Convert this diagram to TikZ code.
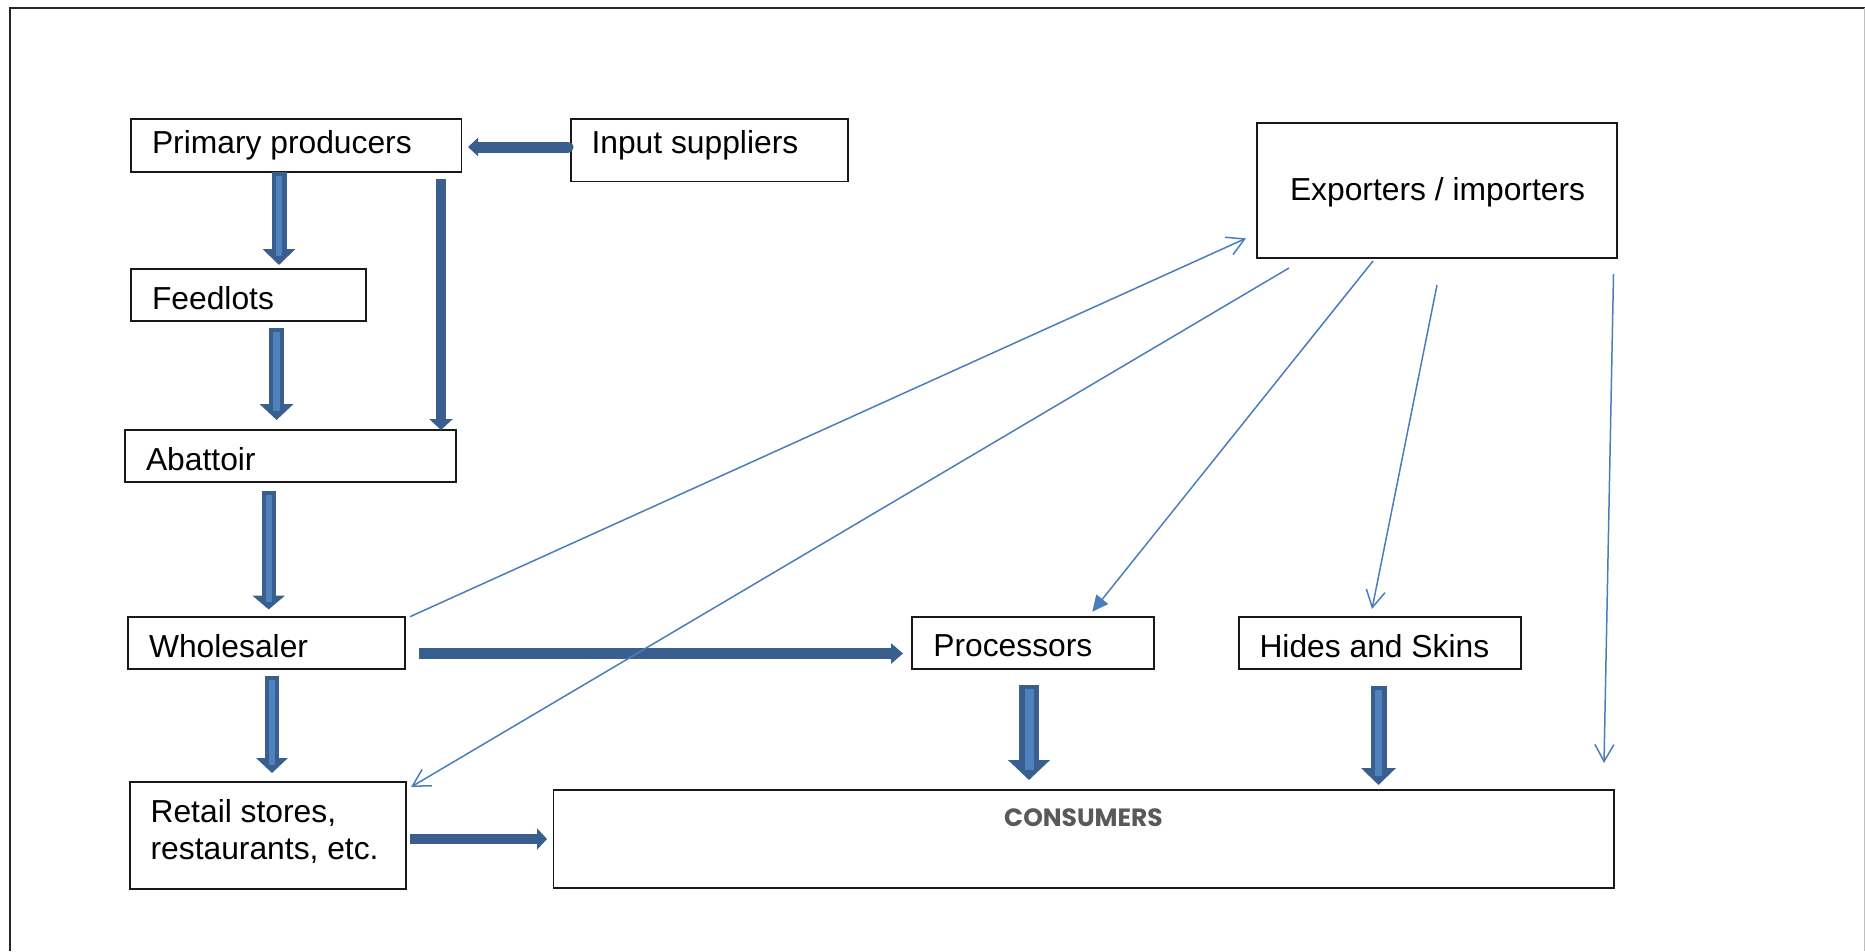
\documentclass[tikz,border=0pt]{standalone}
\usepackage{fontspec}
\setmainfont{Liberation Sans}
\newfontfamily\consfont{Poppins}
\usetikzlibrary{arrows.meta,calc}
\definecolor{bdark}{HTML}{3A5F8F}
\definecolor{blight}{HTML}{4F81BD}
\definecolor{tblue}{HTML}{4A7EBB}
\definecolor{cgray}{HTML}{595959}
\begin{document}
\begin{tikzpicture}[x=1pt,y=-1pt,
  box/.style n args={2}{draw=black!90, line width=1.9pt, rectangle, inner sep=0pt, outer sep=0pt, minimum width=#1, minimum height=#2},
  lbl/.style={anchor=base west, inner sep=0pt, outer sep=0pt, font=\fontsize{31.8}{37}\selectfont},
  blkout/.style n args={3}{draw=bdark, line width=#1, -{Triangle[width=#2,length=#3]}},
  blkin/.style n args={2}{draw=blight, line width=#1, shorten <=4pt, shorten >=#2},
  thin/.style={draw=tblue, line width=1.5pt, -{Straight Barb[length=17pt,width=19pt,line width=1.5pt]}},
  thinf/.style={draw=tblue, fill=tblue, line width=1.5pt, -{Triangle[length=16pt,width=15pt]}}
]
\useasboundingbox (0,0) rectangle (1865,951);
% frame
\draw[line width=2pt, black!85] (10,951) -- (10,8) -- (1865,8);
\draw[line width=1pt, black!25] (1864,8) -- (1864,951);

% boxes
\node[box={330.5pt}{52.4pt}] (prim) at (296.25,145.5) {};
\node[box={276.8pt}{62.2pt}] (inp) at (709.4,150.4) {};
\node[box={234.6pt}{52pt}] (feed) at (248.3,295) {};
\node[box={330.8pt}{51.7pt}] (abat) at (290.8,455.85) {};
\node[box={276.8pt}{52pt}] (whole) at (266.6,643.3) {};
\node[box={276.2pt}{106.4pt}] (retail) at (268.1,835.5) {};
\node[box={1060.5pt}{98.3pt}] (cons) at (1083.75,839.15) {};
\node[box={242.4pt}{52pt}] (proc) at (1033.2,642.7) {};
\node[box={282.6pt}{52pt}] (hides) at (1380,643.3) {};
\node[box={359.7pt}{134.7pt}] (exp) at (1437.15,190.65) {};

% labels
\node[lbl] (primT) at (152,153.3) {Primary producers};
\node[lbl] (inpT) at (591.5,153.3) {Input suppliers};
\node[lbl] (feedT) at (152,309) {Feedlots};
\node[lbl] (abatT) at (146,470.7) {Abattoir};
\node[lbl] (wholeT) at (149,657.7) {Wholesaler};
\node[lbl] (retailTa) at (150.6,822.3) {Retail stores,};
\node[lbl] (retailTb) at (150.6,859.3) {restaurants, etc.};
\node[lbl] (procT) at (933.3,656.7) {Processors};
\node[lbl] (hidesT) at (1259.5,657.7) {Hides and Skins};
\node[lbl] (expT) at (1290,200.7) {Exporters / importers};
\node[anchor=base west, inner sep=0pt, text=cgray, font=\consfont\bfseries\fontsize{25}{30}\selectfont] (consT) at (1004,826) {CONSUMERS};

% block arrow end points
\coordinate (a1s) at ($(prim.south west)+(148,0)$);
\coordinate (a1e) at ($(feed.north west)+(148,-4)$);
\coordinate (a2s) at ($(feed.south west)+(145.6,7)$);
\coordinate (a2e) at ($(abat.north west)+(151.2,-10)$);
\coordinate (a3s) at ($(prim.south east)+(-20.5,7.3)$);
\coordinate (a3e) at ($(abat.north east)+(-15.2,0)$);
\coordinate (a4s) at ($(inp.west)+(-3,-3.4)$);
\coordinate (a4e) at ($(prim.east)+(6.5,1.5)$);
\coordinate (a5s) at ($(abat.south west)+(143.3,9.3)$);
\coordinate (a5e) at ($(whole.north west)+(140.5,-7.8)$);
\coordinate (a6s) at ($(whole.south west)+(143.8,6.4)$);
\coordinate (a6e) at ($(retail.north west)+(142,-9.3)$);
\coordinate (a7s) at ($(retail.east)+(3.8,3.5)$);
\coordinate (a7e) at ($(cons.west)+(-6.5,-0.15)$);
\coordinate (a8s) at ($(whole.east)+(14,10.2)$);
\coordinate (a8e) at ($(proc.west)+(-9,10.8)$);
\coordinate (a9s) at ($(proc.south west)+(117,16.3)$);
\coordinate (a9e) at ($(cons.north west)+(475.5,-10)$);
\coordinate (a10s) at ($(hides.south west)+(139.8,16.4)$);
\coordinate (a10e) at ($(cons.north west)+(825,-5)$);

% block arrows
\draw[blkout={15pt}{32pt}{16pt}] (a1s) -- (a1e);
\draw[blkin={6.5pt}{9pt}] (a1s) -- (a1e);
\draw[blkout={15pt}{33pt}{16pt}] (a2s) -- (a2e);
\draw[blkin={6.5pt}{9pt}] (a2s) -- (a2e);
\draw[blkout={10pt}{23pt}{11pt}] (a3s) -- (a3e);
\draw[blkout={11pt}{18pt}{10pt}, line cap=round] (a4s) -- (a4e);
\draw[blkout={14pt}{32pt}{14pt}] (a5s) -- (a5e);
\draw[blkin={6pt}{8pt}] (a5s) -- (a5e);
\draw[blkout={14.5pt}{31pt}{15pt}] (a6s) -- (a6e);
\draw[blkin={6pt}{8pt}] (a6s) -- (a6e);
\draw[blkout={10pt}{21pt}{10pt}] (a7s) -- (a7e);
\draw[blkout={11pt}{20pt}{12pt}] (a8s) -- (a8e);
\draw[blkout={19.3pt}{41pt}{20pt}] (a9s) -- (a9e);
\draw[blkin={9pt}{10pt}] (a9s) -- (a9e);
\draw[blkout={16pt}{34pt}{17pt}] (a10s) -- (a10e);
\draw[blkin={7pt}{9pt}] (a10s) -- (a10e);

% thin connectors
\draw[thin] ($(whole.north east)+(5,-0.6)$) -- ($(exp.south west)+(-11.3,-19.7)$);
\draw[thin] ($(exp.south west)+(31.7,10)$) -- ($(retail.north east)+(4.8,4.7)$);
\draw[thinf] ($(exp.south west)+(115.7,3)$) -- ($(proc.north west)+(180.3,-5)$);
\draw[thin] ($(exp.south west)+(179.7,27)$) -- ($(hides.north west)+(133.3,-8.3)$);
\draw[thin] ($(exp.south east)+(-3.5,16)$) -- ($(cons.north east)+(-10,-27)$);
\end{tikzpicture}
\end{document}
